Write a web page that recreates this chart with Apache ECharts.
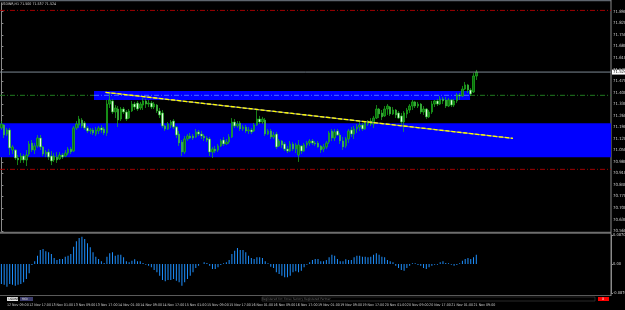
<!DOCTYPE html>
<html><head><meta charset="utf-8">
<script src="https://cdn.jsdelivr.net/npm/echarts@6/dist/echarts.min.js"></script>
<style>html,body{margin:0;padding:0;background:#000;}#c{width:625px;height:310px;}</style>
</head><body><div id="c"></div>
<script>
// ---------- DATA ----------
const opens = [
71.185,71.203,71.148,71.173,71.051,71.051,71.003,70.991,71.015,70.991,
71.027,71.094,71.051,71.076,71.124,71.070,71.027,71.039,71.015,70.991,
71.009,70.997,71.021,71.015,71.033,71.057,71.045,71.185,71.203,71.233,
71.215,71.185,71.167,71.173,71.148,71.167,71.185,71.179,71.155,71.330,
71.349,71.282,71.300,71.239,71.300,71.282,71.245,71.288,71.330,71.336,
71.306,71.324,71.349,71.330,71.336,71.312,71.324,71.288,71.276,71.197,
71.179,71.203,71.227,71.191,71.148,71.100,71.039,71.118,71.136,71.136,
71.130,71.161,71.148,71.136,71.124,71.118,71.039,71.057,71.051,71.076,
71.112,71.088,71.100,71.130,71.221,71.197,71.215,71.179,71.191,71.167,
71.173,71.167,71.203,71.239,71.221,71.233,71.148,71.167,71.130,71.148,
71.076,71.106,71.088,71.057,71.045,71.088,71.057,71.021,71.076,71.045,
71.082,71.094,71.106,71.094,71.094,71.076,71.057,71.070,71.100,71.167,
71.124,71.167,71.142,71.106,71.076,71.118,71.173,71.148,71.179,71.191,
71.203,71.179,71.209,71.227,71.209,71.245,71.300,71.276,71.258,71.300,
71.312,71.270,71.294,71.276,71.258,71.221,71.270,71.294,71.318,71.343,
71.318,71.330,71.282,71.300,71.252,71.282,71.330,71.349,71.330,71.361,
71.355,71.318,71.355,71.324,71.349,71.385,71.379,71.421,71.446,71.415,
71.403,71.500];
const closes = [
71.209,71.142,71.173,71.064,71.070,71.003,70.991,71.015,70.991,71.021,
71.088,71.051,71.076,71.124,71.070,71.027,71.039,71.009,70.985,71.015,
70.991,71.021,71.009,71.033,71.057,71.039,71.185,71.209,71.239,71.197,
71.185,71.167,71.173,71.155,71.173,71.185,71.173,71.155,71.330,71.355,
71.282,71.306,71.233,71.300,71.282,71.239,71.288,71.330,71.312,71.300,
71.330,71.349,71.330,71.336,71.312,71.330,71.288,71.264,71.197,71.179,
71.209,71.221,71.191,71.142,71.094,71.039,71.118,71.136,71.124,71.124,
71.161,71.148,71.136,71.124,71.112,71.039,71.057,71.045,71.076,71.106,
71.088,71.100,71.130,71.221,71.197,71.209,71.179,71.191,71.167,71.173,
71.161,71.203,71.239,71.221,71.239,71.148,71.167,71.130,71.142,71.070,
71.106,71.082,71.057,71.045,71.088,71.057,71.082,71.082,71.045,71.082,
71.094,71.106,71.094,71.088,71.070,71.051,71.070,71.094,71.155,71.124,
71.161,71.142,71.106,71.070,71.118,71.167,71.148,71.179,71.191,71.203,
71.179,71.215,71.227,71.209,71.245,71.300,71.270,71.252,71.300,71.318,
71.270,71.294,71.264,71.245,71.221,71.276,71.294,71.318,71.343,71.318,
71.330,71.282,71.300,71.252,71.282,71.330,71.349,71.330,71.361,71.349,
71.318,71.355,71.324,71.349,71.385,71.379,71.421,71.446,71.415,71.391,
71.500,71.524];
const lows = [
71.173,71.124,71.136,71.021,71.027,70.991,70.960,70.973,70.973,70.954,
71.015,71.039,71.027,71.064,71.051,71.015,71.009,70.991,70.960,70.979,
70.973,70.991,70.997,71.009,71.021,71.027,71.039,71.173,71.185,71.185,
71.173,71.155,71.148,71.142,71.136,71.148,71.155,71.142,71.136,71.306,
71.270,71.245,71.191,71.227,71.270,71.227,71.239,71.282,71.294,71.288,
71.294,71.294,71.306,71.312,71.300,71.300,71.276,71.245,71.185,71.167,
71.173,71.185,71.179,71.124,71.076,71.015,71.027,71.106,71.118,71.112,
71.124,71.136,71.118,71.106,71.100,71.015,71.003,71.033,71.039,71.070,
71.076,71.082,71.088,71.124,71.185,71.185,71.167,71.167,71.155,71.148,
71.148,71.161,71.197,71.209,71.209,71.136,71.142,71.118,71.118,71.057,
71.070,71.064,71.045,71.033,71.039,71.045,71.033,70.979,71.027,71.039,
71.064,71.076,71.082,71.076,71.064,71.033,71.039,71.057,71.088,71.106,
71.106,71.136,71.088,71.051,71.064,71.094,71.130,71.118,71.155,71.167,
71.167,71.173,71.197,71.197,71.185,71.239,71.245,71.233,71.252,71.264,
71.258,71.264,71.245,71.239,71.203,71.161,71.245,71.276,71.294,71.306,
71.306,71.270,71.264,71.239,71.245,71.270,71.312,71.318,71.324,71.330,
71.306,71.312,71.312,71.312,71.336,71.355,71.373,71.415,71.397,71.379,
71.397,71.476];
const highs = [
71.227,71.209,71.185,71.185,71.082,71.057,71.021,71.033,71.027,71.051,
71.106,71.112,71.094,71.142,71.142,71.076,71.051,71.057,71.045,71.033,
71.039,71.039,71.033,71.051,71.070,71.070,71.197,71.227,71.258,71.245,
71.227,71.197,71.185,71.185,71.191,71.197,71.203,71.191,71.355,71.403,
71.361,71.324,71.318,71.312,71.312,71.294,71.300,71.349,71.343,71.349,
71.343,71.367,71.361,71.355,71.349,71.343,71.330,71.306,71.294,71.203,
71.221,71.233,71.239,71.197,71.167,71.112,71.136,71.148,71.155,71.148,
71.179,71.173,71.167,71.148,71.136,71.130,71.070,71.076,71.088,71.118,
71.130,71.118,71.148,71.245,71.239,71.227,71.227,71.203,71.203,71.191,
71.185,71.215,71.294,71.258,71.252,71.245,71.179,71.179,71.161,71.161,
71.118,71.112,71.100,71.076,71.106,71.100,71.094,71.112,71.082,71.094,
71.106,71.118,71.118,71.106,71.106,71.082,71.088,71.106,71.167,71.179,
71.179,71.179,71.155,71.130,71.130,71.179,71.191,71.197,71.209,71.221,
71.215,71.227,71.233,71.245,71.258,71.324,71.306,71.294,71.318,71.330,
71.318,71.312,71.300,71.288,71.276,71.288,71.306,71.330,71.355,71.349,
71.343,71.336,71.318,71.306,71.294,71.349,71.355,71.361,71.379,71.373,
71.373,71.367,71.361,71.361,71.397,71.397,71.440,71.464,71.452,71.427,
71.518,71.537];
const histogram = [
-0.060,-0.062,-0.068,-0.060,-0.062,-0.065,-0.062,-0.060,-0.055,-0.045,
-0.028,-0.003,0.008,0.025,0.042,0.045,0.038,0.035,0.030,0.018,
0.012,0.015,0.015,0.022,0.025,0.030,0.052,0.068,0.078,0.082,
0.075,0.062,0.050,0.035,0.022,0.015,0.008,0.003,0.022,0.032,
0.035,0.025,0.028,0.028,0.020,0.008,0.005,0.010,0.014,0.008,
0.008,0.003,-0.002,-0.005,-0.010,-0.018,-0.025,-0.035,-0.048,-0.052,
-0.048,-0.048,-0.045,-0.050,-0.055,-0.065,-0.055,-0.045,-0.035,-0.025,
-0.012,-0.005,0.000,0.005,0.003,-0.005,-0.015,-0.015,-0.010,-0.003,
0.002,0.005,0.012,0.030,0.040,0.048,0.042,0.042,0.035,0.025,
0.018,0.015,0.020,0.020,0.018,0.008,0.002,-0.008,-0.012,-0.025,
-0.030,-0.035,-0.040,-0.040,-0.035,-0.025,-0.022,-0.025,-0.020,-0.010,
-0.002,0.005,0.012,0.015,0.015,0.008,0.008,0.012,0.020,0.028,
0.025,0.015,0.008,0.008,0.014,0.012,0.012,0.020,0.025,0.025,
0.022,0.022,0.020,0.022,0.028,0.032,0.028,0.022,0.020,0.012,
0.008,0.005,-0.005,-0.012,-0.018,-0.020,-0.012,-0.005,0.002,0.002,
-0.003,-0.005,-0.012,-0.015,-0.010,-0.005,-0.002,-0.002,0.005,0.008,
0.003,0.002,-0.002,-0.005,-0.003,0.002,0.010,0.015,0.018,0.015,
0.020,0.028];
const tickLabels = [
"12 Nov 09:00","12 Nov 17:00","13 Nov 01:00","13 Nov 09:00","13 Nov 17:00","14 Nov 01:00",
"14 Nov 09:00","14 Nov 17:00","15 Nov 01:00","15 Nov 09:00","15 Nov 17:00","16 Nov 01:00",
"16 Nov 09:00","16 Nov 17:00","19 Nov 01:00","19 Nov 09:00","19 Nov 17:00","20 Nov 01:00",
"20 Nov 09:00","20 Nov 17:00","21 Nov 01:00","21 Nov 09:00"];
const FIRST_TICK_BAR = 2, TICK_STEP = 8, SLOTS = 220;
const redUpper = 71.898, redLower = 70.934, greenLevel = 71.383, bidPrice = 71.524;
const upperZoneBars = [33.35, 168.75], upperZonePrices = [71.409, 71.355];
const lowerZonePrices = [71.213, 71.007];
const trendBars = [37.5, 184.2], trendPrices = [71.401, 71.122];
const titleText = "USDINR,H1 71.500 71.537 71.524";

// ---------- CHART ----------
const slots = [];
for (let i = 0; i < SLOTS; i++) slots.push(String(i));
const FULL = [-0.5, SLOTS - 0.5];
const candleData = opens.map((o, i) => [o, closes[i], lows[i], highs[i]]);
const FONT = '"Liberation Sans Narrow", "DejaVu Sans Condensed", sans-serif';
const DASHDOT = [5, 2, 1, 2];

function seg(x0, x1, price, color, type, z) {
  return { type: 'line', xAxisIndex: 2, yAxisIndex: 0, data: [[x0, price], [x1, price]],
    symbol: 'none', silent: true, z: z || 4, animation: false,
    lineStyle: { color: color, width: 1, type: type } };
}

const chart = echarts.init(document.getElementById('c'), null, { renderer: 'canvas' });
chart.setOption({
  backgroundColor: '#000000',
  animation: false,
  grid: [
    { left: 0, top: 3, width: 611, height: 228, containLabel: false, outerBoundsMode: 'none' },
    { left: 0, top: 235, width: 611, height: 58, containLabel: false, outerBoundsMode: 'none' }
  ],
  xAxis: [
    { type: 'category', gridIndex: 0, data: slots, boundaryGap: true, show: false },
    { type: 'category', gridIndex: 1, data: slots, boundaryGap: true,
      axisLine: { show: false }, axisTick: { show: false }, splitLine: { show: false },
      axisLabel: { show: true, interval: (i) => (i - FIRST_TICK_BAR) % TICK_STEP === 0 && i >= FIRST_TICK_BAR && (i - FIRST_TICK_BAR) / TICK_STEP < tickLabels.length,
        formatter: (v, i) => tickLabels[(i - FIRST_TICK_BAR) / TICK_STEP] || '',
        align: 'left', margin: 10, fontSize: 3.6, color: '#d0d0d0', fontFamily: FONT } },
    { type: 'value', gridIndex: 0, min: FULL[0], max: FULL[1], show: false }
  ],
  yAxis: [
    { type: 'value', gridIndex: 0, position: 'right', min: 70.56, max: 71.943, interval: 0.07,
      axisLine: { show: true, lineStyle: { color: '#8a8a8a', width: 1 } },
      axisTick: { show: true, length: 2, lineStyle: { color: '#8a8a8a' } },
      splitLine: { show: false },
      axisLabel: { fontSize: 4.3, color: '#d0d0d0', margin: 2, fontFamily: FONT, showMaxLabel: false,
        formatter: (v) => v.toFixed(3) } },
    { type: 'value', gridIndex: 1, position: 'right', min: -0.087, max: 0.087, interval: 0.087,
      axisLine: { show: true, lineStyle: { color: '#8a8a8a', width: 1 } },
      axisTick: { show: true, length: 2, lineStyle: { color: '#8a8a8a' } },
      splitLine: { show: false },
      axisLabel: { fontSize: 4, color: '#d0d0d0', margin: 2, fontFamily: FONT,
        formatter: (v) => Math.abs(v) < 1e-9 ? '0.00' : v.toFixed(4) } }
  ],
  series: [
    { type: 'line', xAxisIndex: 2, yAxisIndex: 0, data: [], silent: true, z: 1,
      markArea: { silent: true, itemStyle: { color: '#0000ff', opacity: 1 },
        data: [
          [{ xAxis: FULL[0], yAxis: lowerZonePrices[0] }, { xAxis: FULL[1], yAxis: lowerZonePrices[1] }],
          [{ xAxis: upperZoneBars[0], yAxis: upperZonePrices[0] }, { xAxis: upperZoneBars[1], yAxis: upperZonePrices[1] }]
        ] } },
    seg(FULL[0], FULL[1], redUpper, '#a00000', DASHDOT, 2),
    seg(FULL[0], FULL[1], redLower, '#a00000', DASHDOT, 2),
    seg(FULL[0], upperZoneBars[0], greenLevel, '#1f7a1f', DASHDOT, 2),
    seg(upperZoneBars[0], upperZoneBars[1], greenLevel, '#4a6cff', DASHDOT, 2),
    seg(upperZoneBars[1], FULL[1], greenLevel, '#1f7a1f', DASHDOT, 2),
    { type: 'candlestick', xAxisIndex: 0, yAxisIndex: 0, data: candleData, z: 3,
      barWidth: 2, silent: true,
      itemStyle: { color: '#0b6e0b', color0: '#e4fbe4', borderColor: '#1fb51f', borderColor0: '#1fb51f', borderWidth: 0.7 } },
    Object.assign(seg(FULL[0], FULL[1], bidPrice, '#7c8894', 'solid', 5), {
      endLabel: { show: true, formatter: bidPrice.toFixed(3), backgroundColor: '#ffffff', color: '#000000',
        fontSize: 4.3, fontFamily: FONT, padding: [1, 1, 0, 1], distance: 1 } }),
    { type: 'line', xAxisIndex: 2, yAxisIndex: 0, symbol: 'none', silent: true, z: 6,
      data: [[trendBars[0], trendPrices[0]], [trendBars[1], trendPrices[1]]],
      lineStyle: { color: '#8c8c8c', width: 1.3, type: 'solid' } },
    { type: 'line', xAxisIndex: 2, yAxisIndex: 0, symbol: 'none', silent: true, z: 7,
      data: [[trendBars[0], trendPrices[0]], [trendBars[1], trendPrices[1]]],
      lineStyle: { color: '#ffff00', width: 1.3, type: [4, 2] } },
    { type: 'bar', xAxisIndex: 1, yAxisIndex: 1, data: histogram, barWidth: 1, silent: true,
      itemStyle: { color: '#1e90ff' } }
  ],
  graphic: [
    { type: 'rect', shape: { x: 0, y: 0, width: 611, height: 1.2 }, style: { fill: '#5e656e' }, silent: true },
    { type: 'rect', shape: { x: 0, y: 231.8, width: 611, height: 2 }, style: { fill: '#6e6e6e' }, silent: true },
    { type: 'rect', shape: { x: 0, y: 295, width: 611, height: 1 }, style: { fill: '#5a5a5a' }, silent: true },
    { type: 'rect', shape: { x: 610.5, y: 0, width: 1, height: 296 }, style: { fill: '#8a8a8a' }, silent: true },
    { type: 'text', x: 1, y: 2, style: { text: titleText, fill: '#d8d8d8', fontSize: 3.6, fontFamily: FONT }, silent: true },
    { type: 'rect', shape: { x: 7, y: 297, width: 11, height: 4 }, style: { fill: '#e6e6e6' }, silent: true },
    { type: 'text', x: 8.5, y: 297.4, style: { text: 'USDINR', fill: '#000', fontSize: 3, fontFamily: FONT }, silent: true },
    { type: 'rect', shape: { x: 20, y: 297, width: 13, height: 4 }, style: { fill: '#3c3c6c' }, silent: true },
    { type: 'text', x: 22, y: 297.4, style: { text: 'M60', fill: '#ddd', fontSize: 3, fontFamily: FONT }, silent: true },
    { type: 'rect', shape: { x: 262, y: 297, width: 333, height: 4 }, style: { fill: 'none', stroke: '#444', lineWidth: 0.6 }, silent: true },
    { type: 'text', x: 262, y: 297.4, style: { text: 'Registered for: Forex Factory Registered Partner', fill: '#666', fontSize: 3.2, fontFamily: FONT }, silent: true },
    { type: 'rect', shape: { x: 598, y: 297, width: 11, height: 4 }, style: { fill: '#ff0000' }, silent: true },
    { type: 'text', x: 602, y: 297.2, style: { text: 'X', fill: '#fff', fontSize: 3.5, fontFamily: FONT }, silent: true }
  ]
});
</script>
</body></html>
